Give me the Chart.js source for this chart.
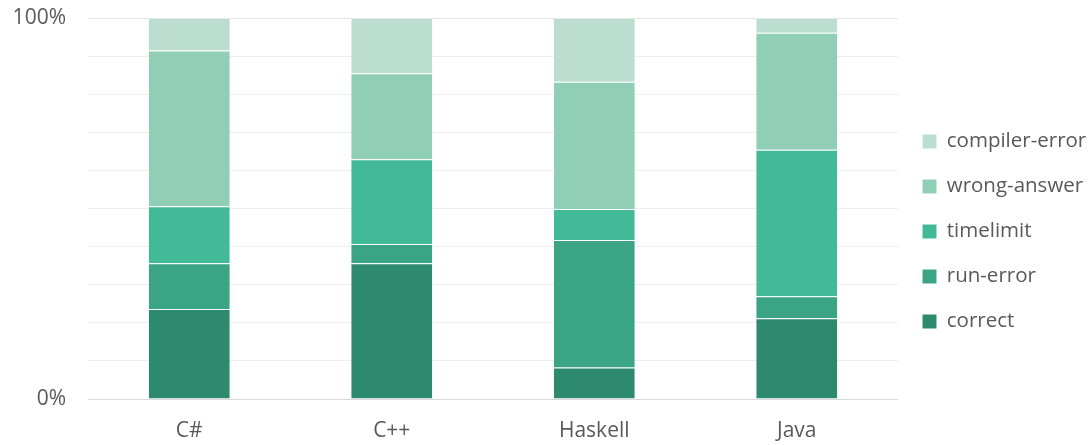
<!DOCTYPE html>
<html>
<head>
<meta charset="utf-8">
<script src="https://cdn.jsdelivr.net/npm/chart.js@4/dist/chart.umd.min.js"></script>
<style>
  html, body { margin: 0; padding: 0; background: #fff; }
  #wrap { width: 1091px; height: 445px; }
</style>
</head>
<body>
<div id="wrap"><canvas id="chart" width="1091" height="445"></canvas></div>
<script>
// categories and values (percent of submissions)
const languages = ['C#', 'C++', 'Haskell', 'Java'];
const correct = [23.6, 35.6, 8.3, 21.2];
const runError = [12.0, 5.1, 33.4, 5.8];
const timelimit = [15.0, 22.2, 8.2, 38.4];
const wrongAnswer = [40.9, 22.6, 33.4, 30.7];
const compilerError = [8.5, 14.5, 16.7, 3.9];
const yTickLabels = { 0: '0%', 100: '100%' };

const textColor = '#595959';
const font = "'Open Sans', 'DejaVu Sans', sans-serif";

function ds(label, data, color) {
    return {
        label: label,
        data: data,
        backgroundColor: color,
        borderColor: 'rgba(255,255,255,0.2)',
        borderWidth: { top: 1, left: 0, right: 0, bottom: 0 },
        borderSkipped: false,
        barPercentage: 0.4,
        categoryPercentage: 1.0
    };
}

const ctx = document.getElementById('chart').getContext('2d');
const chart = new Chart(ctx, {
    type: 'bar',
    data: {
        labels: languages,
        datasets: [
            ds('correct', correct, '#2e8a6f'),
            ds('run-error', runError, '#3aa485'),
            ds('timelimit', timelimit, '#43ba97'),
            ds('wrong-answer', wrongAnswer, '#90ceb6'),
            ds('compiler-error', compilerError, '#bcded1')
        ]
    },
    options: {
        responsive: false,
        animation: false,
        layout: { padding: { top: 18, left: 0, right: 0, bottom: 0 } },
        plugins: {
            tooltip: { enabled: false },
            legend: {
                position: 'right',
                reverse: true,
                maxWidth: 193,
                labels: {
                    boxWidth: 14,
                    boxHeight: 14,
                    padding: 24.5,
                    color: textColor,
                    font: { family: font, size: 20.5 }
                }
            }
        },
        scales: {
            x: {
                stacked: true,
                grid: { display: false, drawTicks: false },
                border: { display: false },
                ticks: { color: textColor, padding: 19, font: { family: font, size: 21 } },
                afterFit: function(scale) {
                    scale.height = 46;
                    scale.paddingLeft = 0;
                    scale.paddingRight = 0;
                }
            },
            y: {
                stacked: true,
                min: 0,
                max: 100,
                grid: {
                    drawTicks: false,
                    color: function(c) {
                        if (c.tick.value === 0) return '#d9d9d9';
                        if (c.tick.value === 100) return '#e4e4e4';
                        return '#efefef';
                    }
                },
                border: { display: false },
                ticks: {
                    stepSize: 10,
                    padding: 22,
                    color: textColor,
                    font: { family: font, size: 21 },
                    callback: function(v) { return yTickLabels[v] || ''; }
                },
                afterFit: function(scale) {
                    scale.width = 88;
                    scale.paddingTop = 0;
                    scale.paddingBottom = 0;
                }
            }
        }
    }
});
</script>
</body>
</html>
